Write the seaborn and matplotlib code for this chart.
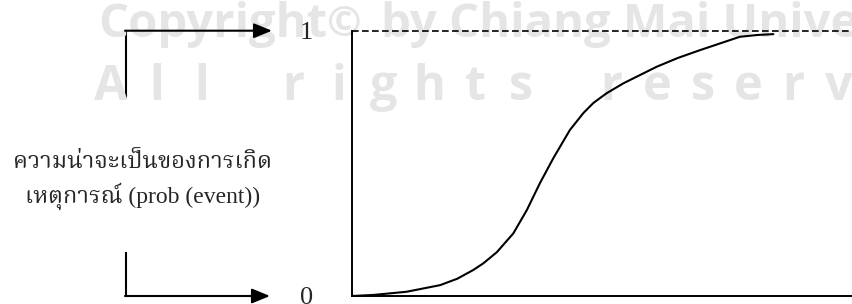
import numpy as np
import seaborn as sns
import matplotlib.pyplot as plt
from matplotlib import font_manager
from matplotlib.ft2font import FT2Font
from matplotlib.patches import Rectangle

# --- Data (cumulative probability curve) ---
time_frac = [0.0, 0.043, 0.109, 0.176, 0.21, 0.242, 0.262, 0.289, 0.322,
             0.349, 0.375, 0.402, 0.435, 0.462, 0.482, 0.508, 0.542, 0.608,
             0.65, 0.695, 0.774, 0.81, 0.841]
prob_event = [0.0, 0.004, 0.016, 0.041, 0.065, 0.098, 0.123, 0.165, 0.236,
              0.324, 0.425, 0.52, 0.626, 0.69, 0.728, 0.764, 0.802, 0.864,
              0.897, 0.927, 0.977, 0.984, 0.987]
y_ticks = [0, 1]
y_tick_labels = ['0', '1']

label_lines = ['ความน่าจะเป็นของการเกิด', 'เหตุการณ์ (prob (event))']
watermark_top = ['Copyright', '\u00a9', 'by Chiang Mai University']
watermark_bottom = 'All rights reserved'


def find_thai_font():
    """Return the name of an installed font that has Thai glyphs."""
    found = []
    for f in font_manager.fontManager.ttflist:
        try:
            if 0x0E01 in FT2Font(f.fname).get_charmap():
                found.append(f.name)
        except Exception:
            pass
    for pref in ['Norasi', 'Laksaman', 'TH Sarabun New', 'Noto Serif Thai',
                 'Garuda', 'Loma', 'Noto Sans Thai']:
        if pref in found:
            return pref
    return found[0] if found else 'DejaVu Sans'


sns.set_style('white')
thai_font = find_thai_font()
serif_family = ['Liberation Serif', thai_font, 'DejaVu Sans']
plt.rcParams['font.family'] = serif_family

fig = plt.figure(figsize=(8.53, 3.04), dpi=100)

# background layer in pixel units for the annotations / watermark
ax_bg = fig.add_axes([0, 0, 1, 1])
ax_bg.set_xlim(0, 853)
ax_bg.set_ylim(304, 0)
ax_bg.axis('off')

# --- watermark (clipped like the scan) ---
clip_rect = Rectangle((0, 0), 853, 97, transform=ax_bg.transData)
wm_color = '#e5e5e5'
wm_kw = dict(color=wm_color, family='Open Sans', weight='bold')
t1 = ax_bg.text(98, 37, watermark_top[0], fontsize=34, ha='left',
                va='baseline', **wm_kw)
t2 = ax_bg.annotate(watermark_top[1], xy=(1, 0), xycoords=t1,
                    xytext=(0, 9), textcoords='offset points',
                    fontsize=30, ha='left', va='baseline', **wm_kw)
t3 = ax_bg.annotate(watermark_top[2], xy=(1, 0), xycoords=(t2, t1),
                    xytext=(14, 0), textcoords='offset points',
                    fontsize=34, ha='left', va='bottom', **wm_kw)
for t in (t1, t2, t3):
    t.set_clip_path(clip_rect)
for i, ch in enumerate(watermark_bottom):
    if ch == ' ':
        continue
    t = ax_bg.text(111 + i * 45.5, 100, ch, fontsize=35, ha='center',
                   va='baseline', **wm_kw)
    t.set_clip_path(clip_rect)

# --- main curve axes ---
ax = fig.add_axes([352 / 853, 8 / 304, 501 / 853, (296 - 30.7) / 304])
ax.set_facecolor('none')

sns.lineplot(x=time_frac, y=prob_event, ax=ax, color='black', lw=1.5,
             clip_on=False)
ax.axhline(1, color='black', lw=1.2, ls=(0, (4, 2)), clip_on=False)

ax.set_xlim(0, 1)
ax.set_ylim(0, 1)
ax.set_xticks([])
ax.set_yticks(y_ticks)
ax.set_yticklabels(y_tick_labels)
ax.tick_params(axis='y', length=0, pad=28, labelsize=19)
ax.set_xlabel('')
ax.set_ylabel('')
sns.despine(ax=ax, top=True, right=True)
for side in ['left', 'bottom']:
    ax.spines[side].set_color('black')
    ax.spines[side].set_linewidth(1.4)

# --- left-hand bracket arrows ---
arrow_kw = dict(arrowstyle='-|>,head_length=1.1,head_width=0.45',
                color='black', lw=1.5, shrinkA=0, shrinkB=0,
                mutation_scale=10)
ax_bg.plot([125.7, 125.7], [97, 30.7], color='black', lw=1.5,
           solid_capstyle='projecting')
ax_bg.annotate('', xy=(272, 30.7), xytext=(125, 30.7), arrowprops=arrow_kw)
ax_bg.plot([125.7, 125.7], [253, 296], color='black', lw=1.5,
           solid_capstyle='projecting')
ax_bg.annotate('', xy=(270, 296), xytext=(125, 296), arrowprops=arrow_kw)

# --- y label (Thai) ---
ax_bg.text(143, 162, label_lines[0], fontsize=17, family=serif_family,
           ha='center', va='center')
ax_bg.text(143, 196, label_lines[1], fontsize=17, family=serif_family,
           ha='center', va='center')

fig.savefig('out.png', dpi=100)
